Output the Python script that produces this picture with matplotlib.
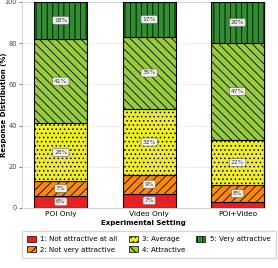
import numpy as np
import matplotlib.pyplot as plt
from matplotlib.patches import Patch

settings = ["POI Only", "Video Only", "POI+Video"]
levels = ["1: Not attractive at all", "2: Not very attractive", "3: Average",
          "4: Attractive", "5: Very attractive"]
poi_only = [6, 7, 28, 41, 18]
video_only = [7, 9, 32, 35, 17]
poi_video = [3, 8, 22, 47, 20]

colors = ["#e8201f", "#ff8a00", "#eeee22", "#98cc3a", "#2f8f2f"]
hatches = ["", "////", "....", "\\\\\\\\", "|||"]

plt.rcParams["hatch.linewidth"] = 0.6

data = np.array([poi_only, video_only, poi_video])
x = np.arange(len(settings))

fig = plt.figure(figsize=(2.78, 2.68), dpi=100)
ax = fig.add_axes([0.079, 0.224, 0.874, 0.769])

bottom = np.zeros(len(settings))
for j in range(len(levels)):
    vals = data[:, j]
    ax.bar(x, vals, 0.6, bottom=bottom, color=colors[j], hatch=hatches[j],
           edgecolor="black", linewidth=0.8, zorder=3)
    for i in range(len(settings)):
        if vals[i] >= 5:
            ax.text(x[i], bottom[i] + vals[i] / 2, f"{vals[i]}%", ha="center", va="center",
                    fontsize=4.3, color="#333333", zorder=5,
                    bbox=dict(boxstyle="round,pad=0.25", fc="white", ec="#666666", lw=0.5, alpha=0.9))
    bottom += vals

ax.set_xlim(-0.44, 2.31)
ax.set_ylim(0, 100)
ax.set_xticks(x)
ax.set_xticklabels(settings, fontsize=5.3)
ax.set_yticks([0, 20, 40, 60, 80, 100])
ax.tick_params(axis="y", labelsize=4.8, colors="#444444", length=2, width=0.5, pad=1.5)
ax.tick_params(axis="x", length=0, pad=2.5)
ax.set_ylabel("Response Distribution (%)", fontsize=5, fontweight="bold")
ax.yaxis.set_label_coords(-0.062, 0.5)
ax.set_xlabel("Experimental Setting", fontsize=5, fontweight="bold", labelpad=1.5)
ax.grid(axis="y", linestyle="--", color="#dddddd", linewidth=0.5, zorder=0)
for s in ax.spines.values():
    s.set_color("#cccccc")
    s.set_linewidth(0.6)

handles = [Patch(facecolor=colors[j], hatch=hatches[j], edgecolor="black", linewidth=0.5,
                 label=levels[j]) for j in range(len(levels))]
fig.legend(handles=handles, ncol=3, loc="center", bbox_to_anchor=(0.535, 0.088),
           fontsize=5, frameon=True, fancybox=False, edgecolor="#cccccc",
           handlelength=1.3, handleheight=0.8, columnspacing=1.6, handletextpad=0.6,
           borderpad=0.8, labelspacing=0.6)

fig.savefig("out.png", dpi=100)
